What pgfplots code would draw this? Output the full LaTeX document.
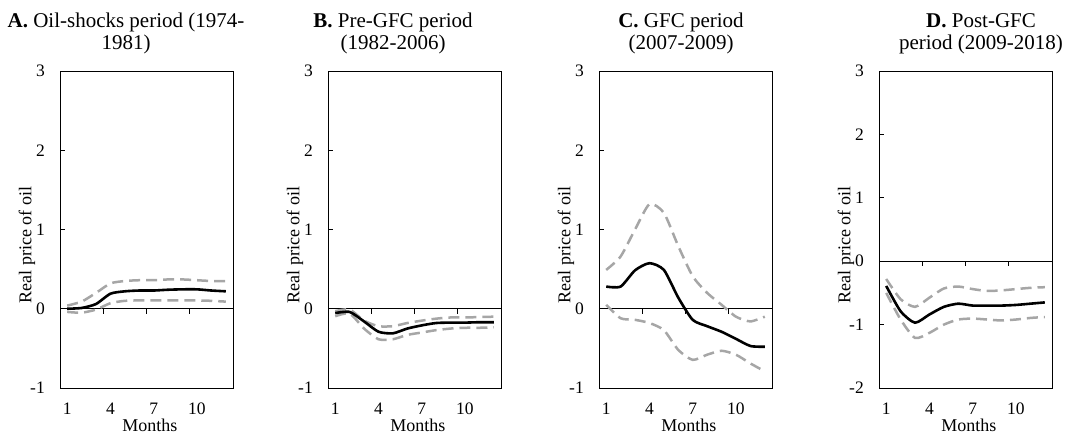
\documentclass[border=0pt]{standalone}
\usepackage{fontspec}
\setmainfont{Liberation Serif}
\usepackage{pgfplots}
\pgfplotsset{compat=1.18}

\definecolor{band}{HTML}{A6A6A6}

\pgfplotsset{
  irf/.style={
    scale only axis, width=173pt, height=317pt, anchor=south west,
    xmin=0.5, xmax=12.5,
    axis line style={black, line width=0.9pt},
    xtick={1,4,7,10}, xticklabels={1,4,7,10},
    xtick style={draw=none},
    xticklabel style={anchor=north, inner sep=0pt, yshift=-15pt},
    ytick pos=left, tick align=inside,
    major tick length=5pt,
    ytick style={black, line width=0.8pt},
    yticklabel style={anchor=east, inner sep=0pt, xshift=-15pt},
    tick label style={font=\fontsize{17.5}{20}\selectfont},
    label style={font=\fontsize{18}{21}\selectfont},
    xlabel={Months},
    xlabel style={at={(axis description cs:0.52,0)}, anchor=north, inner sep=0pt, yshift=-31pt},
    ylabel={Real price of oil},
    ylabel style={at={([xshift=-33pt]axis description cs:0,0.451)}, anchor=center, inner sep=0pt},
    clip=false,
  },
  mid/.style={black, line width=2.6pt, smooth, tension=0.4},
  ci/.style={band, line width=2.5pt, dash pattern=on 11pt off 6pt, smooth, tension=0.4},
}

\newcommand{\zeroline}{%
  \draw[black, line width=0.9pt] (axis cs:0.5,0) -- (axis cs:12.5,0);
  \draw[black, line width=0.8pt] (axis cs:3.5,0) -- ([yshift=-5pt]axis cs:3.5,0);
  \draw[black, line width=0.8pt] (axis cs:6.5,0) -- ([yshift=-5pt]axis cs:6.5,0);
  \draw[black, line width=0.8pt] (axis cs:9.5,0) -- ([yshift=-5pt]axis cs:9.5,0);
}

\begin{document}
\begin{tikzpicture}
\useasboundingbox (0,0) rectangle (1073pt,-435pt);
\tikzset{ttl/.style={anchor=base, font=\fontsize{21}{23}\selectfont, inner sep=0pt}}

\node[ttl] at (126pt,-28pt) {\textbf{A.} Oil-shocks period (1974-};
\node[ttl] at (126pt,-50pt) {1981)};
\node[ttl] at (393pt,-28pt) {\textbf{B.} Pre-GFC period};
\node[ttl] at (393pt,-50pt) {(1982-2006)};
\node[ttl] at (681pt,-28pt) {\textbf{C.} GFC period};
\node[ttl] at (681pt,-50pt) {(2007-2009)};
\node[ttl] at (981pt,-28pt) {\textbf{D.} Post-GFC};
\node[ttl] at (981pt,-50pt) {period (2009-2018)};

% A. Oil-shocks period
\begin{axis}[irf, at={(60pt,-388pt)}, ymin=-1, ymax=3,
    ytick={-1,0,1,2,3}, yticklabels={-1,0,1,2,3}]
  \zeroline
  \addplot[ci] coordinates {(1,0.04) (2,0.09) (3,0.20) (4,0.32) (5,0.35) (6,0.36) (7,0.36) (8,0.37) (9,0.37) (10,0.36) (11,0.35) (12,0.35)};
  \addplot[ci] coordinates {(1,-0.04) (2,-0.05) (3,-0.01) (4,0.07) (5,0.10) (6,0.105) (7,0.105) (8,0.105) (9,0.105) (10,0.105) (11,0.10) (12,0.09)};
  \addplot[mid] coordinates {(1,0.0) (2,0.01) (3,0.06) (4,0.19) (5,0.22) (6,0.23) (7,0.23) (8,0.24) (9,0.245) (10,0.245) (11,0.23) (12,0.22)};
\end{axis}

% B. Pre-GFC period
\begin{axis}[irf, at={(328pt,-388pt)}, ymin=-1, ymax=3,
    ytick={-1,0,1,2,3}, yticklabels={-1,0,1,2,3}]
  \zeroline
  \addplot[ci] coordinates {(1,-0.03) (2,-0.01) (3,-0.15) (4,-0.22) (5,-0.22) (6,-0.18) (7,-0.15) (8,-0.125) (9,-0.11) (10,-0.11) (11,-0.105) (12,-0.10)};
  \addplot[ci] coordinates {(1,-0.095) (2,-0.06) (3,-0.25) (4,-0.385) (5,-0.385) (6,-0.33) (7,-0.30) (8,-0.27) (9,-0.25) (10,-0.24) (11,-0.24) (12,-0.235)};
  \addplot[mid] coordinates {(1,-0.055) (2,-0.04) (3,-0.16) (4,-0.29) (5,-0.31) (6,-0.25) (7,-0.21) (8,-0.18) (9,-0.175) (10,-0.175) (11,-0.17) (12,-0.17)};
\end{axis}

% C. GFC period
\begin{axis}[irf, at={(599pt,-388pt)}, ymin=-1, ymax=3,
    ytick={-1,0,1,2,3}, yticklabels={-1,0,1,2,3}]
  \zeroline
  \addplot[ci] coordinates {(1,0.49) (2,0.66) (3,1.0) (4,1.32) (5,1.21) (6,0.79) (7,0.41) (8,0.20) (9,0.05) (10,-0.10) (11,-0.16) (12,-0.10)};
  \addplot[ci] coordinates {(1,0.05) (2,-0.12) (3,-0.14) (4,-0.18) (5,-0.27) (6,-0.52) (7,-0.645) (8,-0.58) (9,-0.53) (10,-0.58) (11,-0.69) (12,-0.79)};
  \addplot[mid] coordinates {(1,0.28) (2,0.28) (3,0.485) (4,0.575) (5,0.49) (6,0.14) (7,-0.14) (8,-0.22) (9,-0.29) (10,-0.38) (11,-0.47) (12,-0.48)};
\end{axis}

% D. Post-GFC period
\begin{axis}[irf, at={(879pt,-388pt)}, ymin=-2, ymax=3,
    ytick={-2,-1,0,1,2,3}, yticklabels={-2,-1,0,1,2,3}]
  \zeroline
  \addplot[ci] coordinates {(1,-0.28) (2,-0.60) (3,-0.72) (4,-0.575) (5,-0.43) (6,-0.40) (7,-0.44) (8,-0.47) (9,-0.46) (10,-0.44) (11,-0.42) (12,-0.41)};
  \addplot[ci] coordinates {(1,-0.50) (2,-0.92) (3,-1.21) (4,-1.13) (5,-1.0) (6,-0.92) (7,-0.905) (8,-0.92) (9,-0.935) (10,-0.92) (11,-0.895) (12,-0.88)};
  \addplot[mid] coordinates {(1,-0.39) (2,-0.79) (3,-0.97) (4,-0.84) (5,-0.72) (6,-0.67) (7,-0.70) (8,-0.70) (9,-0.70) (10,-0.69) (11,-0.67) (12,-0.65)};
\end{axis}
\end{tikzpicture}
\end{document}
